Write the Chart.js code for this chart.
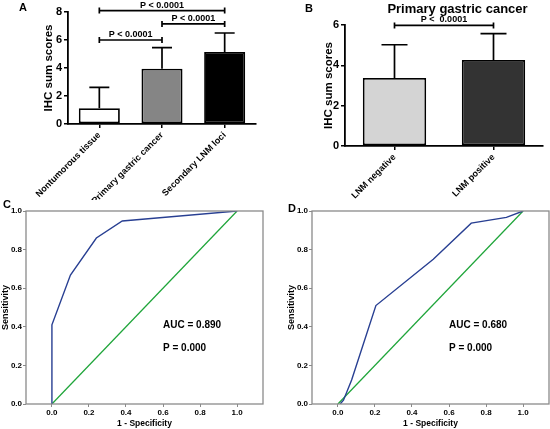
<!DOCTYPE html>
<html>
<head>
<meta charset="utf-8">
<script src="https://cdn.jsdelivr.net/npm/chart.js@4.4.1/dist/chart.umd.min.js"></script>
<style>
  html, body { margin: 0; padding: 0; background: #fff; }
  #figura { position: relative; width: 550px; height: 429px; overflow: hidden;
            font-family: 'Liberation Sans', Arial, sans-serif; font-weight: bold; color: #000; }
  #figura canvas { position: absolute; }
  .letra { position: absolute; font-size: 11px; line-height: 1; }
  .titulo { position: absolute; font-size: 13px; line-height: 1; text-align: center; white-space: nowrap; }
</style>
</head>
<body>
<div id="figura">
  <canvas id="gA" width="275" height="200" style="left:0;top:0"></canvas>
  <canvas id="gB" width="270" height="200" style="left:280px;top:0"></canvas>
  <canvas id="gC" width="275" height="229" style="left:0;top:200px"></canvas>
  <canvas id="gD" width="270" height="229" style="left:280px;top:200px"></canvas>
  <div class="letra" style="left:19px;top:2px">A</div>
  <div class="letra" style="left:305px;top:3px">B</div>
  <div class="letra" style="left:3px;top:199px">C</div>
  <div class="letra" style="left:288px;top:203px">D</div>
  <div class="titulo" style="left:380px;top:2px;width:155px">Primary gastric cancer</div>
</div>
<script>
/* ---- Dados ---- */
// Painel A: escores IHC por tipo de tecido (média + DP)
const GRUPOS_A = ['Nontumorous tissue', 'Primary gastric cancer', 'Secondary LNM loci'];
const MEDIAS_A = [1.12, 3.95, 5.15];
const DP_A = [1.5, 1.5, 1.35];
const CORES_A = ['#ffffff', '#858585', '#000000'];
// comparações: barra inicial, barra final, altura do colchete, texto
const COMP_A_DE = [0, 1, 0];
const COMP_A_ATE = [1, 2, 2];
const COMP_A_ALTURA = [6.0, 7.15, 8.1];
const COMP_A_TEXTO = ['P < 0.0001', 'P < 0.0001', 'P < 0.0001'];
const TICKS_A = [0, 2, 4, 6, 8];

// Painel B: câncer gástrico primário, LNM negativo x positivo
const GRUPOS_B = ['LNM negative', 'LNM positive'];
const MEDIAS_B = [3.37, 4.27];
const DP_B = [1.65, 1.3];
const CORES_B = ['#d4d4d4', '#333333'];
const COMP_B_DE = [0];
const COMP_B_ATE = [1];
const COMP_B_ALTURA = [5.98];
const COMP_B_TEXTO = ['P <  0.0001'];
const TICKS_B = [0, 2, 4, 6];

// Painéis C e D: curvas ROC (1 - especificidade x sensibilidade)
const FPR_C = [0, 0, 0.10, 0.24, 0.38, 1.0];
const TPR_C = [0, 0.41, 0.668, 0.86, 0.948, 1.0];
const FPR_D = [0.012, 0.03, 0.074, 0.205, 0.515, 0.72, 0.91, 1.0];
const TPR_D = [0, 0.02, 0.124, 0.51, 0.75, 0.937, 0.967, 1.0];
const DIAGONAL = [0, 1];
const TICKS_ROC = [0, 0.2, 0.4, 0.6, 0.8, 1.0];
const TEXTO_C = ['AUC = 0.890', 'P = 0.000'];
const TEXTO_D = ['AUC = 0.680', 'P = 0.000'];

const AZUL = '#283f92';
const VERDE = '#1fa53a';
const CINZA = '#8a8a8a';

Chart.defaults.font.family = "'Liberation Sans', Arial, sans-serif";
Chart.defaults.font.weight = 'bold';
Chart.defaults.color = '#000';
Chart.defaults.animation = false;
Chart.defaults.plugins.legend.display = false;
Chart.defaults.plugins.tooltip.enabled = false;

/* Barras de erro (só para cima) e colchetes de significância */
const barrasDeErro = {
  id: 'barrasDeErro',
  afterDatasetsDraw(chart, args, o) {
    const { ctx } = chart;
    const y = chart.scales.y;
    const barras = chart.getDatasetMeta(0).data;
    ctx.save();
    ctx.strokeStyle = '#000';
    ctx.lineWidth = 1.7;
    barras.forEach((b, i) => {
      const topo = y.getPixelForValue(o.medias[i] + o.dp[i]);
      ctx.beginPath();
      ctx.moveTo(b.x, b.y);
      ctx.lineTo(b.x, topo);
      ctx.moveTo(b.x - o.capa, topo);
      ctx.lineTo(b.x + o.capa, topo);
      ctx.stroke();
    });
    ctx.font = "bold 9px 'Liberation Sans', Arial, sans-serif";
    ctx.fillStyle = '#000';
    ctx.textAlign = 'center';
    ctx.textBaseline = 'alphabetic';
    o.de.forEach((ini, k) => {
      const x1 = barras[ini].x, x2 = barras[o.ate[k]].x;
      const yy = y.getPixelForValue(o.altura[k]);
      ctx.beginPath();
      ctx.moveTo(x1, yy); ctx.lineTo(x2, yy);
      ctx.moveTo(x1, yy - 3); ctx.lineTo(x1, yy + 3);
      ctx.moveTo(x2, yy - 3); ctx.lineTo(x2, yy + 3);
      ctx.stroke();
      ctx.fillText(o.texto[k], (x1 + x2) / 2, yy - 3);
    });
    ctx.restore();
  }
};

/* Moldura cinza em volta da área do gráfico ROC */
const moldura = {
  id: 'moldura',
  afterDraw(chart) {
    const { ctx, chartArea: a } = chart;
    ctx.save();
    ctx.strokeStyle = CINZA;
    ctx.lineWidth = 1.3;
    ctx.strokeRect(a.left, a.top, a.right - a.left, a.bottom - a.top);
    ctx.restore();
  }
};

/* Texto AUC / P dentro do gráfico, em coordenadas de dados */
const textoROC = {
  id: 'textoROC',
  afterDraw(chart, args, o) {
    const { ctx, scales } = chart;
    ctx.save();
    ctx.font = "bold 10px 'Liberation Sans', Arial, sans-serif";
    ctx.fillStyle = '#000';
    ctx.textBaseline = 'middle';
    o.linhas.forEach((t, i) => {
      ctx.fillText(t, scales.x.getPixelForValue(o.x), scales.y.getPixelForValue(o.y[i]));
    });
    ctx.restore();
  }
};

function eixoPreto(extra) {
  return Object.assign({
    grid: { display: true, drawOnChartArea: false, offset: false, tickLength: 4, color: '#000', lineWidth: 1.5 },
    border: { color: '#000', width: 1.8 }
  }, extra);
}

function graficoBarras(id, d) {
  return new Chart(document.getElementById(id), {
    type: 'bar',
    data: {
      labels: d.grupos,
      datasets: [{
        data: d.medias,
        backgroundColor: d.cores,
        borderColor: '#000',
        borderWidth: 1.8,
        borderSkipped: false,
        categoryPercentage: 1,
        barPercentage: d.barra
      }]
    },
    options: {
      responsive: false,
      layout: { padding: d.padding },
      scales: {
        x: eixoPreto({
          ticks: { autoSkip: false, minRotation: 45, maxRotation: 45, padding: 2, font: { size: 9 } },
          afterFit: s => { s.height = d.alturaX; }
        }),
        y: eixoPreto({
          min: 0, max: d.max,
          afterBuildTicks: s => { s.ticks = d.ticks.map(v => ({ value: v })); },
          ticks: { padding: 2, font: { size: 11 } },
          title: { display: true, text: 'IHC sum scores', font: { size: 11.5 }, padding: { top: d.tituloY, bottom: 0 } },
          afterFit: s => { s.width = d.larguraY; }
        })
      },
      plugins: {
        barrasDeErro: { medias: d.medias, dp: d.dp, capa: d.capa, de: d.de, ate: d.ate, altura: d.altura, texto: d.texto }
      }
    },
    plugins: [barrasDeErro]
  });
}

function graficoROC(id, fpr, tpr, linhas, d) {
  const curva = fpr.map((x, i) => ({ x, y: tpr[i] }));
  const acaso = DIAGONAL.map(v => ({ x: v, y: v }));
  const eixo = (extra) => Object.assign({
    type: 'linear',
    afterBuildTicks: s => { s.ticks = TICKS_ROC.map(v => ({ value: v })); },
    grid: { display: true, drawOnChartArea: false, tickLength: 3, color: CINZA, lineWidth: 1 },
    border: { display: false }
  }, extra);
  return new Chart(document.getElementById(id), {
    type: 'scatter',
    data: {
      datasets: [
        { data: curva, showLine: true, borderColor: AZUL, borderWidth: 1.4, pointRadius: 0, tension: 0 },
        { data: acaso, showLine: true, borderColor: VERDE, borderWidth: 1.3, pointRadius: 0 }
      ]
    },
    options: {
      responsive: false,
      layout: { padding: d.padding },
      scales: {
        x: eixo({
          min: -0.14, max: 1.14,
          ticks: { callback: v => Number(v).toFixed(1), padding: 1, font: { size: 8 } },
          title: { display: true, text: '1 - Specificity', font: { size: 8.5 }, padding: 0 },
          afterFit: s => { s.height = 25; }
        }),
        y: eixo({
          min: 0, max: 1,
          ticks: { callback: v => Number(v).toFixed(1), padding: 1, font: { size: 8 } },
          title: { display: true, text: 'Sensitivity', font: { size: 9 }, padding: { top: d.tituloY, bottom: 0 } },
          afterFit: s => { s.width = d.larguraY; }
        })
      },
      plugins: {
        textoROC: { linhas, x: 0.6, y: [0.41, 0.29] }
      }
    },
    plugins: [moldura, textoROC]
  });
}

graficoBarras('gA', {
  grupos: GRUPOS_A, medias: MEDIAS_A, dp: DP_A, cores: CORES_A, ticks: TICKS_A, max: 8,
  de: COMP_A_DE, ate: COMP_A_ATE, altura: COMP_A_ALTURA, texto: COMP_A_TEXTO,
  barra: 0.655, capa: 10, padding: { top: 12, right: 19, left: 0, bottom: 0 },
  larguraY: 68, alturaX: 76, tituloY: 42
});

graficoBarras('gB', {
  grupos: GRUPOS_B, medias: MEDIAS_B, dp: DP_B, cores: CORES_B, ticks: TICKS_B, max: 6,
  de: COMP_B_DE, ate: COMP_B_ATE, altura: COMP_B_ALTURA, texto: COMP_B_TEXTO,
  barra: 0.64, capa: 13, padding: { top: 25, right: 7, left: 0, bottom: 0 },
  larguraY: 65, alturaX: 54, tituloY: 42
});

graficoROC('gC', FPR_C, TPR_C, TEXTO_C, { padding: { top: 11, right: 12, left: 0, bottom: 0 }, larguraY: 26, tituloY: 0 });
graficoROC('gD', FPR_D, TPR_D, TEXTO_D, { padding: { top: 11, right: 1, left: 0, bottom: 0 }, larguraY: 32, tituloY: 6.5 });
</script>
</body>
</html>
